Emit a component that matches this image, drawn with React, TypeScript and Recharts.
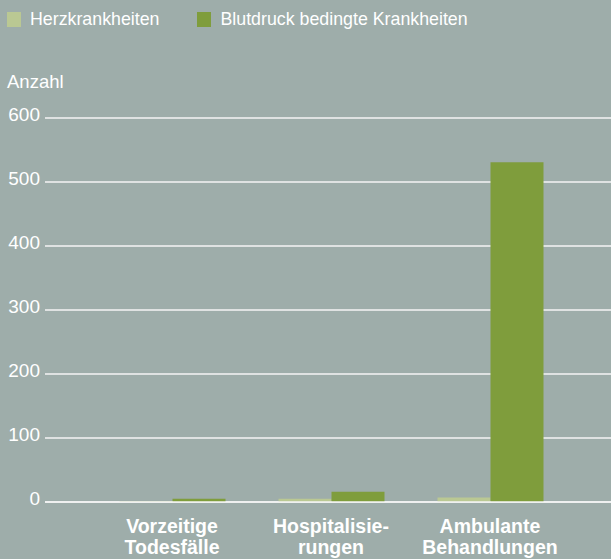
import React from 'react';
import { BarChart, Bar, XAxis, YAxis, CartesianGrid, ReferenceLine } from 'recharts';

const categories = ['Vorzeitige\nTodesfälle', 'Hospitalisie-\nrungen', 'Ambulante\nBehandlungen'];
const herzkrankheiten = [1, 5, 7];
const blutdruck = [5, 16, 531];
const yTicks = [0, 100, 200, 300, 400, 500, 600];

const seriesNames = ['Herzkrankheiten', 'Blutdruck bedingte Krankheiten'];
const LIGHT = '#bac893';
const DARK = '#7f9d3c';
const BG = '#9eadaa';
const FONT = '"Liberation Sans", Arial, Helvetica, sans-serif';

const data = categories.map((c, i) => ({
    name: c,
    herz: herzkrankheiten[i],
    blut: blutdruck[i],
}));

function CategoryTick({ x, y, payload }: any) {
    const lines = String(payload.value).split('\n');
    return (
        <text x={x} y={y} textAnchor="middle" fill="#fff" fontSize={19.5} fontWeight="bold" fontFamily={FONT}>
            {lines.map((l, i) => (
                <tspan key={i} x={x} dy={i === 0 ? 31 : 20.5}>
                    {l}
                </tspan>
            ))}
        </text>
    );
}

export default function App() {
    return (
        <div style={{ position: 'absolute', left: 0, top: 0, width: 611, height: 559, background: BG, fontFamily: FONT, color: '#fff' }}>
            <div style={{ position: 'absolute', left: 7, top: 9, display: 'flex', alignItems: 'center', fontSize: 17.8, lineHeight: '20px' }}>
                <span style={{ width: 14, height: 15, background: LIGHT, display: 'inline-block', marginRight: 9 }} />
                <span style={{ marginRight: 38 }}>{seriesNames[0]}</span>
                <span style={{ width: 14, height: 15, background: DARK, display: 'inline-block', marginRight: 9 }} />
                <span>{seriesNames[1]}</span>
            </div>
            <div style={{ position: 'absolute', left: 7, top: 71, fontSize: 18.5 }}>Anzahl</div>
            <BarChart
                width={611}
                height={559}
                data={data}
                margin={{ top: 118, right: 0, bottom: 0, left: 0 }}
                barGap={0}
                barSize={53}
            >
                <CartesianGrid vertical={false} stroke="#f4f4f4" strokeWidth={1.5} />
                <XAxis
                    dataKey="name"
                    height={57}
                    axisLine={false}
                    tickLine={false}
                    tickSize={0}
                    tickMargin={0}
                    interval={0}
                    padding={{ left: 47.5, right: 41.5 }}
                    tick={<CategoryTick />}
                />
                <YAxis
                    width={45}
                    domain={[0, 600]}
                    ticks={yTicks}
                    axisLine={false}
                    tickLine={false}
                    tickSize={0}
                    tickMargin={5}
                    tick={{ fill: '#fff', fontSize: 19, fontFamily: FONT, dy: -4 }}
                />
                <Bar dataKey="herz" name={seriesNames[0]} fill={LIGHT} isAnimationActive={false} />
                <Bar dataKey="blut" name={seriesNames[1]} fill={DARK} isAnimationActive={false} />
                <ReferenceLine y={0} stroke="#f4f4f4" strokeWidth={1.5} />
            </BarChart>
        </div>
    );
}
